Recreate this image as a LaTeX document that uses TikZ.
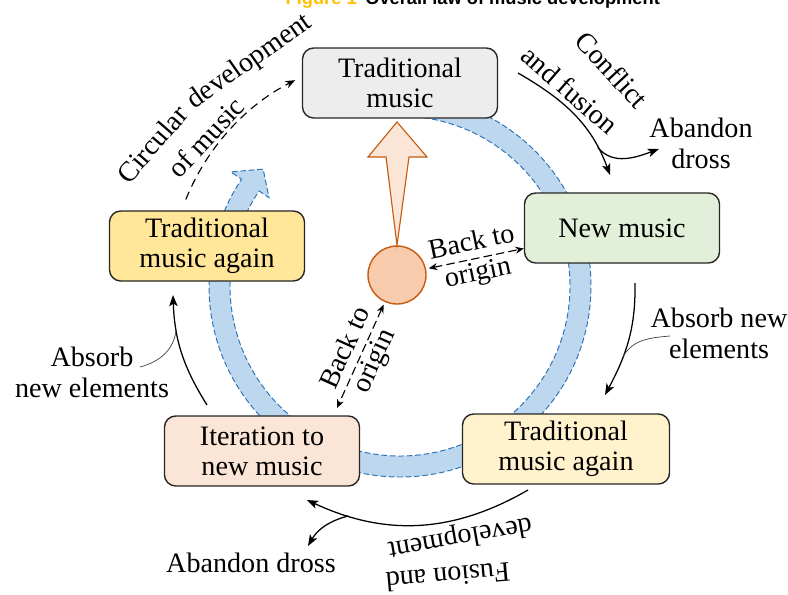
\documentclass[tikz,border=0pt]{standalone}
\usepackage{fontspec}
\setmainfont{Liberation Serif}
\setsansfont{Liberation Sans}
\usetikzlibrary{arrows.meta}
\definecolor{oldgray}{HTML}{EDEDED}
\definecolor{newgreen}{HTML}{E2F0D9}
\definecolor{againlight}{HTML}{FFF2CC}
\definecolor{againdeep}{HTML}{FFE699}
\definecolor{iterpeach}{HTML}{FBE5D6}
\definecolor{ringfill}{HTML}{BDD7EE}
\definecolor{ringline}{HTML}{2E75B6}
\definecolor{corefill}{HTML}{F8CBAD}
\definecolor{coreline}{HTML}{C55A11}
\definecolor{figorange}{HTML}{FFC000}
\tikzset{
  stage/.style={draw=black!85, line width=1pt, rounded corners=8pt, minimum width=4.875cm, minimum height=1.75cm, align=center, font=\fontsize{20}{21.5}\selectfont},
  lbl/.style={align=center, inner sep=1pt, font=\fontsize{20}{22}\selectfont},
  figtitle/.style={inner sep=0pt, font=\sffamily\bfseries\fontsize{13}{15}\selectfont},
  flow/.style={-{Stealth[length=8pt, width=6pt, inset=2pt]}, line width=0.9pt},
  leader/.style={line width=0.5pt, draw=black!75},
  backflow/.style={<->, >={Stealth[length=6pt, width=5pt]}, line width=0.8pt, dash pattern=on 6pt off 3pt, shorten <=2pt},
  ring/.style={fill=ringfill, draw=ringline, line width=0.7pt, dash pattern=on 4pt off 2pt},
  devline/.style={-{Stealth[length=7pt, width=5.5pt]}, line width=0.8pt, dash pattern=on 6pt off 4pt}
}
\begin{document}
\begin{tikzpicture}[x=0.025cm, y=0.025cm]
  \useasboundingbox (0,0) rectangle (788,-594);

  % caption line, cut by the top edge
  \node[figtitle, anchor=base west] (title) at (365,-4) {Overall law of music development};
  \node[figtitle, anchor=base east, text=figorange] (fignum) at (357,-4) {Figure 1};

  % big circular arrow and the outer dashed arc
  \begin{scope}[shift={(400,-286)}]
    \path[ring] (88:191) arc[start angle=88, end angle=-214, radius=191]
      -- (146:204) -- (139.5:180) -- (146:158) -- (146:170)
      arc[start angle=-214, end angle=88, radius=170] -- cycle;
    \draw[devline] (158:231) arc[start angle=158, end angle=117, radius=231];
  \end{scope}

  % stages
  \node[stage, fill=oldgray] (top) at (400,-83) {Traditional\\music};
  \node[stage, fill=newgreen] (new) at (622,-228) {New music};
  \node[stage, fill=againlight, minimum width=5.175cm] (againr) at (566,-449) {Traditional\\music again};
  \node[stage, fill=iterpeach] (iter) at (262,-451) {Iteration to\\new music};
  \node[stage, fill=againdeep] (againl) at (207,-246) {Traditional\\music again};

  % origin and the arrow up to tradition
  \node[circle, fill=corefill, draw=coreline, line width=1pt, minimum size=1.45cm, inner sep=0pt] (core) at (397,-275) {};
  \draw[fill=iterpeach, draw=coreline, line width=0.8pt] (397,-122) -- (427,-157) -- (409,-157) -- (core.north) -- (386,-157) -- (368,-157) -- cycle;

  % back to origin
  \coordinate (iterback) at (337,-408);
  \draw[backflow] (core) -- node[lbl, sloped] (backa) {Back to\\origin} (new);
  \draw[backflow] (core) -- node[lbl, sloped] (backb) {Back to\\origin} (iterback);

  % conflict and fusion
  \coordinate (cfa) at (518,-73);
  \coordinate (cfb) at (610,-175);
  \coordinate (drossa) at (659,-149);
  \draw[flow] (cfa) to[out=-30, in=110] coordinate[pos=0.8] (cfsplit) (cfb);
  \draw[flow] (cfsplit) to[out=-50, in=200] (drossa);
  \node[lbl, rotate=-47] (conf) at (612,-70) {Conflict};
  \node[lbl, rotate=-41] (fus) at (570,-90) {and fusion};
  \node[lbl] (abdra) at (701,-143) {Abandon\\dross};

  % absorb, right
  \coordinate (aba) at (635,-283);
  \coordinate (abb) at (605,-395);
  \coordinate (abnote) at (670,-336);
  \draw[flow] (aba) to[out=-89, in=62] coordinate[pos=0.65] (abmid) (abb);
  \draw[leader] (abnote) to[out=185, in=60] (abmid);
  \node[lbl] (absr) at (719,-333) {Absorb new\\elements};

  % absorb, left
  \coordinate (ala) at (207,-405);
  \coordinate (alb) at (173,-295);
  \coordinate (alnote) at (140,-367);
  \draw[flow] (ala) to[out=122, in=-88] coordinate[pos=0.72] (almid) (alb);
  \draw[leader] (alnote) to[out=15, in=-95] (almid);
  \node[lbl] (absl) at (92,-372) {Absorb\\new elements};

  % fusion and development
  \coordinate (fda) at (528,-490);
  \coordinate (fdb) at (307,-500);
  \coordinate (drossb) at (308,-546);
  \draw[flow] (fda) to[out=-150, in=-25] coordinate[pos=0.82] (fdsplit) (fdb);
  \draw[flow] (fdsplit) to[out=195, in=60] (drossb);
  \node[lbl] (abdrb) at (251,-563) {Abandon dross};
  \node[lbl, rotate=190] (devel) at (460,-537) {development};
  \node[lbl, rotate=185] (fusand) at (448,-577) {Fusion and};

  % circular development, bent along the dashed arc
  \node[lbl, rotate=49] (circ) at (152,-144) {Circular};
  \node[lbl, rotate=35] (circdev) at (250,-62) {development};
  \node[lbl, rotate=47] (ofmus) at (206,-137) {of music};
\end{tikzpicture}
\end{document}
